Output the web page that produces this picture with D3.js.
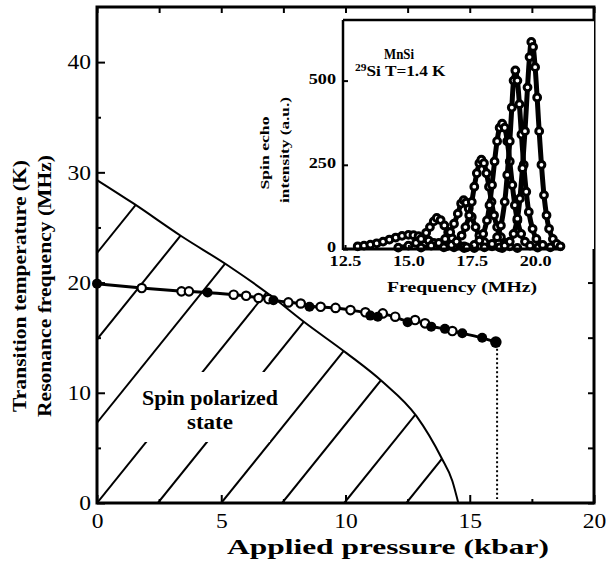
<!DOCTYPE html>
<html>
<head>
<meta charset="utf-8">
<script src="https://cdn.jsdelivr.net/npm/d3@7"></script>
<style>
  body { margin: 0; background: #fff; }
  svg text { font-family: "Liberation Serif", "Times New Roman", serif; fill: #000; }
</style>
</head>
<body>
<div id="chart"></div>
<script>
// main panel data
var tcP = [0, 1.45, 3.4, 5.3, 7.0, 8.35, 10.04, 11.49, 12.85, 13.86, 14.3, 14.54];
var tcT = [29.3, 27.2, 24.2, 21.5, 18.8, 16.4, 13.6, 11.0, 7.9, 4.1, 2.0, 0];

var filledP = [0, 4.45, 7.1, 8.55, 11.0, 11.3, 12.5, 13.45, 14.0, 14.7, 15.5, 16.05];
var filledF = [19.9, 19.1, 18.4, 17.8, 17.0, 16.9, 16.4, 16.0, 15.8, 15.4, 15.0, 14.6];
var openP = [1.8, 3.4, 3.7, 5.5, 6.0, 6.5, 6.9, 7.7, 8.2, 9.0, 9.6, 10.2, 10.8, 11.5, 12.0, 12.8, 13.2, 14.3];
var openF = [19.5, 19.2, 19.2, 18.9, 18.8, 18.6, 18.5, 18.2, 18.1, 17.8, 17.7, 17.5, 17.3, 17.2, 16.9, 16.6, 16.3, 15.6];

var cutoffP = 16.1, cutoffTop = 14.0;
var hatchStarts = [-8.1, -5.3, -2.6, 0, 2.45, 5.0, 7.45, 9.95, 12.45];
var hatchSlope = 2.8;

var xTicks = [0, 5, 10, 15, 20];
var xMinor = [2.5, 7.5, 12.5, 17.5];
var yTicks = [0, 10, 20, 30, 40];
var yMinor = [5, 15, 25, 35];

// inset spectra [frequency MHz, intensity a.u.]
var spec1 = [[13.0,8],[13.25,10],[13.5,13],[13.75,17],[14.0,22],[14.25,28],[14.5,34],[14.75,39],[15.0,42],[15.2,41],[15.4,38],[15.6,32],[15.8,25],[16.0,18],[16.25,12],[16.5,8],[16.8,5],[17.2,3]];
var spec2 = [[14.6,4],[15.0,10],[15.3,18],[15.5,30],[15.7,48],[15.85,65],[16.0,82],[16.12,92],[16.27,86],[16.42,70],[16.57,50],[16.72,32],[16.92,18],[17.2,8],[17.6,3]];
var spec3 = [[15.5,4],[15.9,10],[16.2,18],[16.45,30],[16.65,50],[16.8,75],[16.95,105],[17.08,135],[17.18,145],[17.28,138],[17.38,120],[17.5,95],[17.65,65],[17.8,40],[18.0,20],[18.3,8],[18.7,3]];
var spec4 = [[16.4,5],[16.7,12],[16.9,22],[17.1,40],[17.25,65],[17.4,100],[17.5,140],[17.6,185],[17.7,225],[17.8,255],[17.88,265],[17.98,255],[18.08,225],[18.18,185],[18.28,140],[18.38,100],[18.5,65],[18.65,35],[18.8,18],[19.0,8],[19.3,3]];
var spec5 = [[17.3,5],[17.6,12],[17.8,25],[17.95,45],[18.1,85],[18.2,130],[18.3,190],[18.4,260],[18.5,320],[18.6,360],[18.7,372],[18.8,360],[18.9,320],[19.0,260],[19.1,190],[19.2,130],[19.3,85],[19.45,45],[19.6,22],[19.8,10],[20.1,4]];
var spec6 = [[18.0,5],[18.3,15],[18.5,35],[18.65,70],[18.8,140],[18.9,220],[19.0,320],[19.08,420],[19.15,500],[19.22,530],[19.3,500],[19.38,430],[19.46,340],[19.55,250],[19.65,170],[19.75,110],[19.9,60],[20.05,30],[20.3,12],[20.6,5]];
var spec7 = [[18.6,5],[18.8,10],[19.0,22],[19.15,45],[19.3,90],[19.4,150],[19.5,240],[19.6,350],[19.7,480],[19.78,570],[19.85,615],[19.92,600],[20.0,540],[20.08,450],[20.16,350],[20.25,250],[20.35,160],[20.45,100],[20.55,60],[20.7,30],[20.85,15],[21.0,8]];
var insetXTicks = [12.5, 15, 17.5, 20];
var insetYTicks = [0, 250, 500];

var W = 608, H = 561;
var svg = d3.select("#chart").append("svg").attr("width", W).attr("height", H);

var x = d3.scaleLinear().domain([0, 20]).range([97, 594]);
var y = d3.scaleLinear().domain([0, 45]).range([503, 7]);

// stretch text horizontally (the scan is wider than tall)
function stretch(sel, k) {
  sel.each(function () {
    var w = this.getComputedTextLength();
    d3.select(this).attr("textLength", w * k).attr("lengthAdjust", "spacingAndGlyphs");
  });
}

// hatched region under Tc(p)
var tcPts = tcP.map(function (p, i) { return [p, tcT[i]]; });
var area = d3.area().x(function (d) { return x(d[0]); }).y0(y(0)).y1(function (d) { return y(d[1]); })
  .curve(d3.curveMonotoneX);
svg.append("clipPath").attr("id", "tcclip").append("path").attr("d", area(tcPts));
var hatch = svg.append("g").attr("clip-path", "url(#tcclip)");
hatchStarts.forEach(function (p0) {
  hatch.append("line")
    .attr("x1", x(p0)).attr("y1", y(0))
    .attr("x2", x(p0 + 45 / hatchSlope)).attr("y2", y(45))
    .attr("stroke", "#000").attr("stroke-width", 2);
});
// gap in the hatching behind the label
svg.append("rect").attr("x", 140).attr("y", 372).attr("width", 130).attr("height", 70).attr("fill", "#fff");

var tcLine = d3.line().x(function (d) { return x(d[0]); }).y(function (d) { return y(d[1]); }).curve(d3.curveMonotoneX);
svg.append("path").attr("d", tcLine(tcPts)).attr("fill", "none").attr("stroke", "#000").attr("stroke-width", 2);

// resonance frequency data
var allPts = filledP.map(function (p, i) { return [p, filledF[i]]; })
  .concat(openP.map(function (p, i) { return [p, openF[i]]; }))
  .sort(function (a, b) { return a[0] - b[0]; });
svg.append("path").attr("d", tcLine.curve(d3.curveBasis)(allPts))
  .attr("fill", "none").attr("stroke", "#000").attr("stroke-width", 3);

svg.append("line")
  .attr("x1", x(cutoffP)).attr("x2", x(cutoffP)).attr("y1", y(cutoffTop)).attr("y2", y(0) - 4)
  .attr("stroke", "#000").attr("stroke-width", 2).attr("stroke-dasharray", "2,2.5");

svg.selectAll("circle.open").data(openP).enter().append("circle")
  .attr("cx", function (d) { return x(d); })
  .attr("cy", function (d, i) { return y(openF[i]); })
  .attr("r", 4.2).attr("fill", "#fff").attr("stroke", "#000").attr("stroke-width", 2.2);
svg.selectAll("circle.filled").data(filledP).enter().append("circle")
  .attr("cx", function (d) { return x(d); })
  .attr("cy", function (d, i) { return y(filledF[i]); })
  .attr("r", function (d, i) { return i == filledP.length - 1 ? 5.8 : 5; })
  .attr("fill", "#000");

// label in the hatched region
var lab = svg.append("text").attr("x", 210).attr("text-anchor", "middle")
  .attr("font-weight", "bold").attr("font-size", "20px");
lab.append("tspan").attr("x", 210).attr("y", 405).text("Spin polarized").attr("textLength", 136).attr("lengthAdjust", "spacingAndGlyphs");
lab.append("tspan").attr("x", 210).attr("y", 429).text("state").attr("textLength", 46).attr("lengthAdjust", "spacingAndGlyphs");

// main axes
function fixAxis(g) { g.select(".domain").remove(); g.selectAll("line").attr("stroke-width", 2); }
var gx = svg.append("g").attr("transform", "translate(0," + y(0) + ")")
  .call(d3.axisBottom(x).tickValues(xTicks).tickSize(-8).tickPadding(10).tickFormat(d3.format("d")));
svg.append("g").attr("transform", "translate(0," + y(0) + ")")
  .call(d3.axisBottom(x).tickValues(xMinor).tickSize(-4).tickFormat("")).call(fixAxis);
svg.append("g").attr("transform", "translate(0," + y(45) + ")")
  .call(d3.axisTop(x).tickValues(xTicks.concat(xMinor)).tickSize(-6).tickFormat("")).call(fixAxis);
var gy = svg.append("g").attr("transform", "translate(" + x(0) + ",0)")
  .call(d3.axisLeft(y).tickValues(yTicks).tickSize(-8).tickPadding(6).tickFormat(d3.format("d")));
svg.append("g").attr("transform", "translate(" + x(0) + ",0)")
  .call(d3.axisLeft(y).tickValues(yMinor).tickSize(-4).tickFormat("")).call(fixAxis);
svg.append("g").attr("transform", "translate(" + x(20) + ",0)")
  .call(d3.axisRight(y).tickValues(yTicks.concat(yMinor)).tickSize(-6).tickFormat("")).call(fixAxis);
[gx, gy].forEach(function (g) {
  fixAxis(g);
  g.selectAll("text").attr("font-size", "21px");
  stretch(g.selectAll("text"), 1.12);
});

svg.append("rect").attr("x", x(0)).attr("y", y(45)).attr("width", x(20) - x(0)).attr("height", y(0) - y(45))
  .attr("fill", "none").attr("stroke", "#000").attr("stroke-width", 3);

// axis titles
svg.append("text").attr("x", 388).attr("y", 554).attr("text-anchor", "middle")
  .attr("font-weight", "bold").attr("font-size", "21px").text("Applied pressure (kbar)")
  .attr("textLength", 322).attr("lengthAdjust", "spacingAndGlyphs");
svg.append("text").attr("transform", "translate(26,286) rotate(-90)").attr("text-anchor", "middle")
  .attr("font-weight", "bold").attr("font-size", "19px").text("Transition temperature (K)")
  .attr("textLength", 252).attr("lengthAdjust", "spacingAndGlyphs");
svg.append("text").attr("transform", "translate(51,286) rotate(-90)").attr("text-anchor", "middle")
  .attr("font-weight", "bold").attr("font-size", "19px").text("Resonance frequency (MHz)")
  .attr("textLength", 262).attr("lengthAdjust", "spacingAndGlyphs");

// inset
var ix = d3.scaleLinear().domain([12.42, 21.1]).range([343, 563]);
var iy = d3.scaleLinear().domain([0, 680]).range([249, 20]);
var inset = svg.append("g");
inset.append("rect").attr("x", 343).attr("y", 20).attr("width", x(20) - 343).attr("height", 229).attr("fill", "#fff");

var specLine = d3.line().x(function (d) { return ix(d[0]); }).y(function (d) { return iy(d[1]); }).curve(d3.curveCatmullRom);
[spec1, spec2, spec3, spec4, spec5, spec6, spec7].forEach(function (s) {
  inset.append("path").attr("d", specLine(s)).attr("fill", "none").attr("stroke", "#000").attr("stroke-width", 5);
  inset.selectAll(null).data(s).enter().append("circle")
    .attr("cx", function (d) { return ix(d[0]); })
    .attr("cy", function (d) { return iy(d[1]); })
    .attr("r", 3.4).attr("fill", "#fff").attr("stroke", "#000").attr("stroke-width", 3);
});

inset.append("line").attr("x1", 343).attr("x2", 343).attr("y1", 20).attr("y2", 250).attr("stroke", "#000").attr("stroke-width", 2.5);
inset.append("line").attr("x1", 343).attr("x2", x(20)).attr("y1", 20).attr("y2", 20).attr("stroke", "#000").attr("stroke-width", 2.5);
inset.append("line").attr("x1", 343).attr("x2", 563).attr("y1", 249).attr("y2", 249).attr("stroke", "#000").attr("stroke-width", 3);

var igx = inset.append("g").attr("transform", "translate(0,249)")
  .call(d3.axisBottom(ix).tickValues(insetXTicks).tickSize(-4).tickPadding(7).tickFormat(d3.format(".1f")));
var igy = inset.append("g").attr("transform", "translate(343,0)")
  .call(d3.axisLeft(iy).tickValues(insetYTicks).tickSize(-5).tickPadding(7).tickFormat(d3.format("d")));
[igx, igy].forEach(function (g) {
  fixAxis(g);
  g.selectAll("text").attr("font-size", "14px").attr("font-weight", "bold");
  stretch(g.selectAll("text"), 1.3);
});
igy.selectAll("text").attr("dy", "0.2em");

inset.append("text").attr("x", 462).attr("y", 292).attr("text-anchor", "middle")
  .attr("font-weight", "bold").attr("font-size", "15px").text("Frequency (MHz)")
  .attr("textLength", 150).attr("lengthAdjust", "spacingAndGlyphs");
inset.append("text").attr("transform", "translate(269,153) rotate(-90)").attr("text-anchor", "middle")
  .attr("font-weight", "bold").attr("font-size", "13px").text("Spin echo")
  .attr("textLength", 73).attr("lengthAdjust", "spacingAndGlyphs");
inset.append("text").attr("transform", "translate(289,150) rotate(-90)").attr("text-anchor", "middle")
  .attr("font-weight", "bold").attr("font-size", "13px").text("intensity (a.u.)")
  .attr("textLength", 106).attr("lengthAdjust", "spacingAndGlyphs");

inset.append("text").attr("x", 399).attr("y", 59).attr("text-anchor", "middle")
  .attr("font-weight", "bold").attr("font-size", "14px").text("MnSi")
  .attr("textLength", 30).attr("lengthAdjust", "spacingAndGlyphs");
var t2 = inset.append("text").attr("x", 355).attr("y", 76).attr("font-weight", "bold").attr("font-size", "15px");
t2.append("tspan").attr("font-size", "10px").attr("dy", "-5").text("29");
t2.append("tspan").attr("dy", "5").text("Si T=1.4 K");
stretch(t2.selectAll("tspan"), 1.15);
</script>
</body>
</html>
